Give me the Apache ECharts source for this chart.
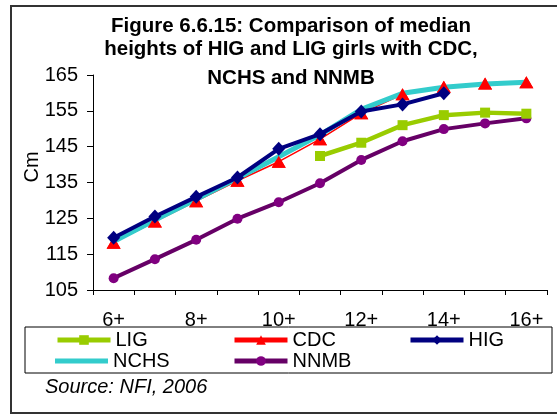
<!DOCTYPE html>
<html>
<head>
<meta charset="utf-8">
<script src="https://cdn.jsdelivr.net/npm/echarts@6/dist/echarts.min.js"></script>
<style>html,body{margin:0;padding:0;background:#fff;}#c{width:557px;height:415px;}</style>
</head>
<body>
<div id="c"></div>
<script>
const categories = ['6+','7+','8+','9+','10+','11+','12+','13+','14+','15+','16+'];
const lig  = [null, null, null, null, null, 142.4, 146.1, 151.0, 153.8, 154.5, 154.2];
const cdc  = [118.2, 124.1, 129.8, 135.5, 140.8, 147.1, 154.3, 159.6, 161.7, 162.6, 163.0];
const hig  = [119.6, 125.5, 131.0, 136.4, 144.4, 148.5, 154.8, 156.8, 159.9, null, null];
const nchs = [118.5, 124.5, 130.3, 136.2, 142.2, 148.3, 155.4, 159.9, 161.6, 162.5, 163.0];
const nnmb = [108.3, 113.6, 119.0, 124.9, 129.5, 134.8, 141.3, 146.5, 149.9, 151.5, 152.9];
const yTicks = [105, 115, 125, 135, 145, 155, 165];

const FONT = '"Liberation Sans", Arial, sans-serif';
const chart = echarts.init(document.getElementById('c'), null, {renderer: 'canvas'});

function legendAt(name, left, top, extra) {
  return Object.assign({
    data: [name], left: left, top: top, orient: 'horizontal',
    itemWidth: 53, itemHeight: 12, itemGap: 0, padding: 0,
    selectedMode: false,
    lineStyle: {width: 5},
    textStyle: {fontFamily: FONT, fontSize: 20, color: '#000', padding: [0,0,0,0]}
  }, extra || {});
}

const option = {
  animation: false,
  backgroundColor: '#fff',
  grid: {left: 93, right: 10, top: 75, bottom: 125, containLabel: false},
  xAxis: {
    type: 'category', data: categories, boundaryGap: true,
    axisLine: {show: true, lineStyle: {color: '#000', width: 1}},
    axisTick: {show: true, length: 5, interval: 0, alignWithLabel: false, lineStyle: {color: '#000'}},
    axisLabel: {interval: 1, margin: 20, fontFamily: FONT, fontSize: 20, color: '#000'},
    splitLine: {show: false}
  },
  yAxis: {
    type: 'value', min: yTicks[0], max: yTicks[yTicks.length-1], interval: 10,
    axisLine: {show: true, lineStyle: {color: '#000', width: 1}},
    axisTick: {show: true, length: 6, lineStyle: {color: '#000'}},
    axisLabel: {margin: 15, fontFamily: FONT, fontSize: 20, color: '#000'},
    splitLine: {show: false}
  },
  legend: [
    legendAt('LIG', 55, 330),
    legendAt('CDC', 232, 330),
    legendAt('HIG', 408, 330),
    legendAt('NCHS', 55, 351, {data: [{name: 'NCHS', icon: 'rect'}], itemHeight: 5}),
    legendAt('NNMB', 232, 351)
  ],
  series: [
    {name: 'NNMB', type: 'line', data: nnmb, z: 2,
     lineStyle: {color: '#660066', width: 4}, itemStyle: {color: '#800080'},
     symbol: 'circle', symbolSize: 10, showAllSymbol: true},
    {name: 'LIG', type: 'line', data: lig, z: 2,
     lineStyle: {color: '#99CC00', width: 4.5}, itemStyle: {color: '#99CC00'},
     symbol: 'rect', symbolSize: 10, showAllSymbol: true},
    {name: 'CDC', type: 'line', data: cdc, z: 2,
     lineStyle: {color: '#FF0000', width: 1.5}, itemStyle: {color: '#FF0000'},
     symbol: 'triangle', symbolSize: [14, 12], showAllSymbol: true},
    {name: 'NCHS', type: 'line', data: nchs, z: 3,
     lineStyle: {color: '#33CCCC', width: 5}, itemStyle: {color: '#33CCCC'},
     symbol: 'none', showSymbol: false},
    {name: 'CDC markers', type: 'line', data: cdc, z: 4,
     lineStyle: {width: 0, opacity: 0}, itemStyle: {color: '#FF0000'},
     symbol: 'triangle', symbolSize: [14, 12], showAllSymbol: true},
    {name: 'HIG', type: 'line', data: hig, z: 5,
     lineStyle: {color: '#000080', width: 4}, itemStyle: {color: '#000080'},
     symbol: 'diamond', symbolSize: [13, 14], showAllSymbol: true}
  ],
  graphic: [
    {type: 'rect', z: -1, shape: {x: 11, y: 6, width: 560, height: 407},
     style: {fill: null, stroke: '#333', lineWidth: 2}},
    {type: 'rect', shape: {x: 25, y: 327, width: 527, height: 46},
     style: {fill: null, stroke: '#000', lineWidth: 1}},
    {type: 'text', x: 291, y: 26, style: {text: 'Figure 6.6.15: Comparison of median', font: 'bold 20.5px ' + FONT, fill: '#000', textAlign: 'center', textVerticalAlign: 'middle'}},
    {type: 'text', x: 291, y: 49, style: {text: 'heights of HIG and LIG girls with CDC,', font: 'bold 20.5px ' + FONT, fill: '#000', textAlign: 'center', textVerticalAlign: 'middle'}},
    {type: 'text', x: 291, y: 78, style: {text: 'NCHS and NNMB', font: 'bold 20.5px ' + FONT, fill: '#000', textAlign: 'center', textVerticalAlign: 'middle'}},
    {type: 'text', x: 32, y: 167, rotation: Math.PI/2, style: {text: 'Cm', font: '20px ' + FONT, fill: '#000', textAlign: 'center', textVerticalAlign: 'middle'}},
    {type: 'text', x: 45, y: 387, style: {text: 'Source: NFI, 2006', font: 'italic 20px ' + FONT, fill: '#000', textAlign: 'left', textVerticalAlign: 'middle'}}
  ]
};
chart.setOption(option);
</script>
</body>
</html>
